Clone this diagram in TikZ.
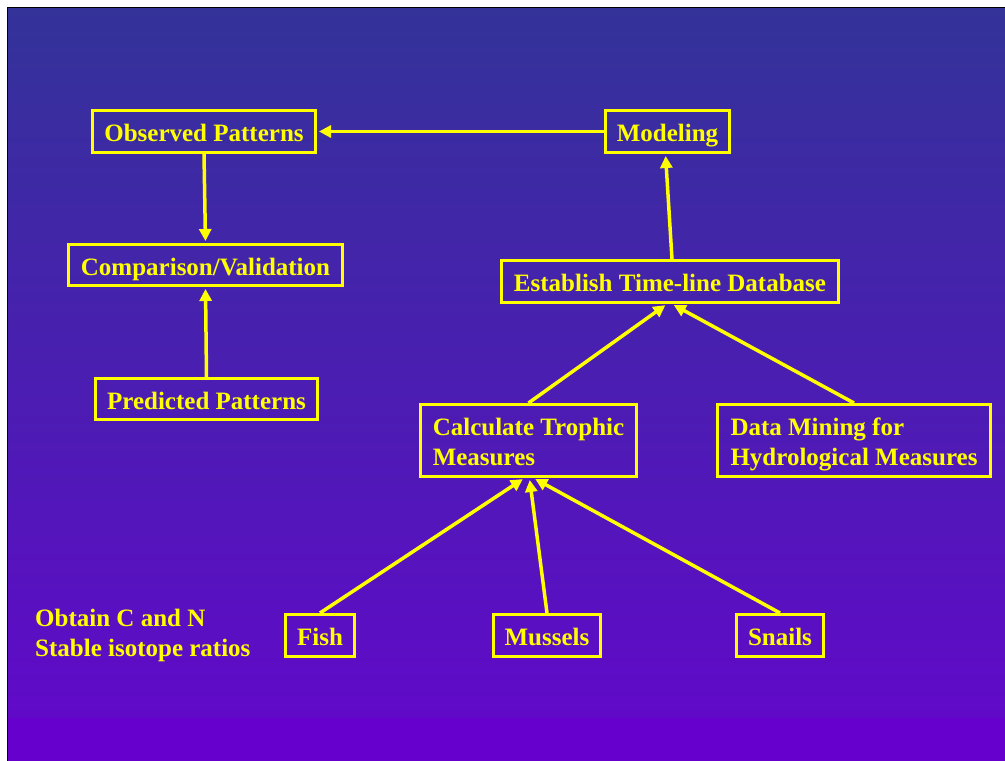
\documentclass[tikz,border=0pt]{standalone}
\usepackage{fontspec}
\setmainfont{Liberation Serif}
\usetikzlibrary{arrows.meta}
\definecolor{bgtop}{RGB}{51,51,153}
\definecolor{bgbot}{RGB}{96,10,200}
\definecolor{bgband}{RGB}{102,0,204}
\definecolor{ylw}{RGB}{255,255,0}
\tikzset{
  box/.style={draw=ylw, line width=3pt, text=ylw, inner sep=0pt,
    font=\fontsize{25}{30}\selectfont\bfseries, align=center,
    text height=20pt, text depth=0pt},
  twoline/.style={align=left, text height=50pt, text depth=0pt},
  conn/.style={draw=ylw, line width=3.5pt, -{Triangle[length=12pt,width=12pt]}, shorten >=2pt},
}
\begin{document}
\begin{tikzpicture}[x=1pt,y=-1pt]
\useasboundingbox (0,0) rectangle (1005,761);
\fill[white] (0,0) rectangle (1005,761);
\shade[top color=bgtop, bottom color=bgbot] (8,8) rectangle (1005,718);
\fill[bgband] (8,718) rectangle (1005,761);
\draw[black, line width=1pt] (7.5,761) -- (7.5,7.5) -- (1005,7.5);

\node[box, minimum width=223pt, minimum height=42pt] (obs) at (204,131.5) {Observed Patterns};
\node[box, minimum width=124pt, minimum height=42pt] (mod) at (667.5,131.5) {Modeling};
\node[box, minimum width=274pt, minimum height=41pt] (comp) at (205.5,265) {Comparison/Validation};
\node[box, minimum width=337pt, minimum height=42pt] (est) at (670,281.5) {Establish Time-line Database};
\node[box, minimum width=222pt, minimum height=41pt] (pred) at (206.5,399) {Predicted Patterns};
\node[box, twoline, minimum width=216pt, minimum height=72pt] (calc) at (528.5,440.5) {Calculate Trophic\\Measures};
\node[box, twoline, minimum width=273pt, minimum height=72pt] (dm) at (854,440.5) {Data Mining for\\Hydrological Measures};
\node[box, minimum width=69pt, minimum height=42pt] (fish) at (320,635.5) {Fish};
\node[box, minimum width=107pt, minimum height=42pt] (mus) at (547,635.5) {Mussels};
\node[box, minimum width=87pt, minimum height=42pt] (snl) at (780,635.5) {Snails};
\node[text=ylw, font=\fontsize{25}{30}\selectfont\bfseries, align=left, anchor=south west, inner sep=0pt, text depth=0pt] (obt) at (35,657) {Obtain C and N\\Stable isotope ratios};

\draw[conn] (mod.west) -- (obs.east);
\draw[conn] (obs.south) -- (comp.north);
\draw[conn] (pred.north) -- (comp.south);
\draw[conn] ([xshift=2pt]est.north) -- ([xshift=-2pt]mod.south);
\draw[conn] (calc.north) -- ([xshift=-3pt]est.south);
\draw[conn] (dm.north) -- ([xshift=2pt]est.south);
\draw[conn] (fish.north) -- ([xshift=-4pt]calc.south);
\draw[conn] (mus.north) -- ([xshift=1pt]calc.south);
\draw[conn] (snl.north) -- ([xshift=5pt]calc.south);
\end{tikzpicture}
\end{document}
